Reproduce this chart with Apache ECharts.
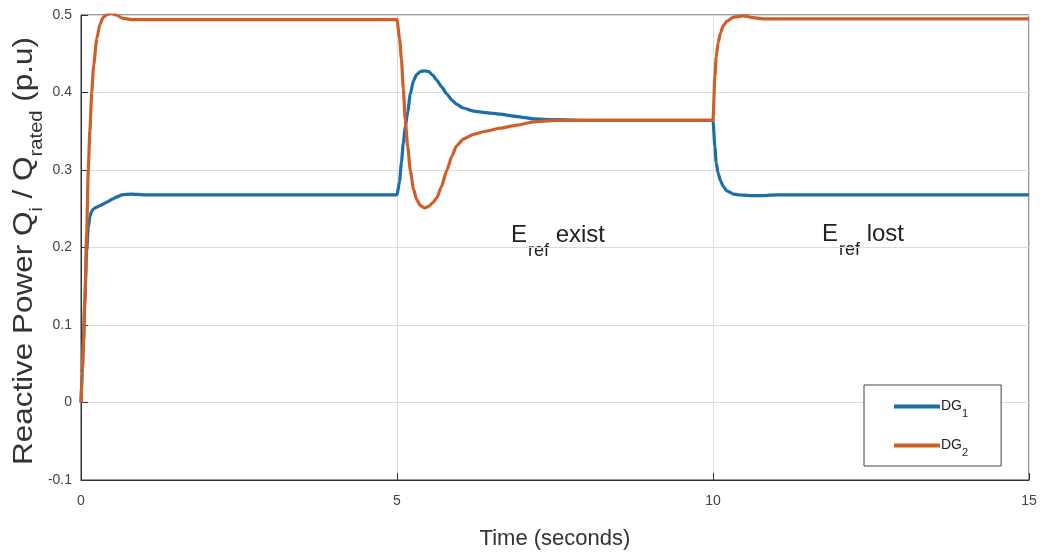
<!DOCTYPE html>
<html>
<head>
<meta charset="utf-8">
<script src="https://cdn.jsdelivr.net/npm/echarts@6/dist/echarts.min.js"></script>
<style>
  html, body { margin: 0; padding: 0; background: #fff; }
  #chart { width: 1040px; height: 553px; }
</style>
</head>
<body>
<div id="chart"></div>
<script>
// Simulation time (seconds)
const time = [
  0, 0.02, 0.04, 0.06, 0.09, 0.115, 0.14, 0.17, 0.2, 0.25, 0.3, 0.35, 0.42, 0.49, 0.56, 0.65, 0.8, 1.0, 1.5,
  5.0, 5.04, 5.07, 5.1, 5.13, 5.17, 5.21, 5.26, 5.31, 5.37, 5.44, 5.5, 5.57, 5.63, 5.7, 5.79, 5.87, 5.94,
  6.05, 6.21, 6.4, 6.63, 6.9, 7.16, 7.5, 8.05, 9.0,
  10.0, 10.03, 10.05, 10.08, 10.12, 10.16, 10.22, 10.32, 10.4, 10.48, 10.6, 10.8, 11.0, 15.0
];

// Reactive power of DG1 (p.u)
const dg1 = [
  0, 0.04, 0.08, 0.13, 0.195, 0.225, 0.24, 0.247, 0.25, 0.252, 0.254, 0.256, 0.259, 0.262, 0.265, 0.268, 0.269, 0.268, 0.268,
  0.268, 0.285, 0.31, 0.335, 0.355, 0.375, 0.398, 0.415, 0.423, 0.427, 0.428, 0.427, 0.422, 0.416, 0.408, 0.398, 0.39, 0.385,
  0.38, 0.376, 0.374, 0.372, 0.369, 0.366, 0.365, 0.364, 0.364,
  0.364, 0.33, 0.31, 0.296, 0.286, 0.279, 0.273, 0.269, 0.268, 0.2675, 0.267, 0.267, 0.268, 0.268
];

// Reactive power of DG2 (p.u)
const dg2 = [
  0, 0.04, 0.08, 0.13, 0.22, 0.3, 0.35, 0.4, 0.435, 0.47, 0.488, 0.497, 0.501, 0.502, 0.5, 0.496, 0.494, 0.494, 0.494,
  0.494, 0.47, 0.443, 0.405, 0.365, 0.33, 0.3, 0.276, 0.262, 0.254, 0.251, 0.253, 0.258, 0.264, 0.278, 0.3, 0.318, 0.331,
  0.34, 0.346, 0.35, 0.354, 0.358, 0.362, 0.364, 0.364, 0.364,
  0.364, 0.421, 0.445, 0.464, 0.477, 0.486, 0.492, 0.497, 0.498, 0.499, 0.497, 0.495, 0.495, 0.495
];

const seriesNames = ['DG1', 'DG2'];
const xTicks = ['0', '5', '10', '15'];
const yTicks = ['-0.1', '0', '0.1', '0.2', '0.3', '0.4', '0.5'];

// Text pieces with subscripts: [text, isSubscript]
const yTitle = [['Reactive Power Q', false], ['i', true], [' / Q', false], ['rated', true], [' (p.u)', false]];
const noteExist = [['E', false], ['ref', true], [' exist', false]];
const noteLost = [['E', false], ['ref', true], [' lost', false]];

const pairs = (vals) => time.map((t, i) => [t, vals[i]]);

const FONT = 'Liberation Sans, Arial, sans-serif';
const BLUE = '#1c6ea6';
const ORANGE = '#cf5e27';

// Measure text so subscripts can sit right after the preceding run
const measureCtx = document.createElement('canvas').getContext('2d');
function textWidth(str, size) {
  measureCtx.font = size + 'px "Liberation Sans", Arial, sans-serif';
  return measureCtx.measureText(str).width;
}

// Build a row of text runs where subscript runs are smaller and dropped by subDy
function subscriptRuns(pieces, mainSize, subSize, subDy, subGap, color) {
  const children = [];
  let x = 0;
  pieces.forEach(([str, isSub]) => {
    const size = isSub ? subSize : mainSize;
    if (isSub) x += subGap;
    children.push({
      type: 'text', x: x, y: isSub ? subDy : 0, silent: true,
      style: { text: str, fontSize: size, fontFamily: FONT, fill: color, align: 'left', verticalAlign: 'middle' }
    });
    x += textWidth(str, size);
  });
  return { children, width: x };
}

const yTitleRuns = subscriptRuns(yTitle, 28, 18, 13.5, 0, '#333');
const yTitleScale = 428 / yTitleRuns.width;
const existRuns = subscriptRuns(noteExist, 24, 18, 16, 1, '#222');
const lostRuns = subscriptRuns(noteLost, 24, 18, 16, 1, '#222');

const chart = echarts.init(document.getElementById('chart'), null, { renderer: 'canvas' });

chart.setOption({
  animation: false,
  backgroundColor: '#ffffff',
  textStyle: { fontFamily: FONT },
  grid: {
    left: 81, right: 11, top: 15, bottom: 73,
    outerBoundsMode: 'none',
    containLabel: false,
    show: true, borderColor: '#333333', borderWidth: 1, backgroundColor: 'transparent'
  },
  legend: {
    data: seriesNames,
    orient: 'vertical',
    left: 864, top: 385,
    padding: [9, 33, 8, 30],
    itemGap: 14,
    itemWidth: 46, itemHeight: 4,
    icon: 'rect',
    backgroundColor: '#ffffff',
    borderColor: '#444',
    borderWidth: 1,
    borderRadius: 0,
    textStyle: {
      fontFamily: FONT,
      color: '#222',
      padding: [0, 0, 0, -4],
      rich: {
        a: { fontSize: 14, lineHeight: 18, color: '#222', fontFamily: FONT },
        s: { fontSize: 11, lineHeight: 18, padding: [14, 0, 0, 0], color: '#222', fontFamily: FONT }
      }
    },
    formatter: (name) => '{a|DG}{s|' + name.slice(2) + '}'
  },
  xAxis: {
    type: 'value',
    min: 0, max: 15, interval: 5,
    name: 'Time (seconds)',
    nameLocation: 'middle',
    nameGap: 48,
    nameTextStyle: { fontSize: 22, color: '#333', fontFamily: FONT },
    axisLine: { show: true, onZero: false, lineStyle: { color: '#333333', width: 1 } },
    axisTick: { show: true, inside: true, length: 7, lineStyle: { color: '#333333' } },
    axisLabel: {
      fontSize: 14, color: '#444', margin: 14,
      formatter: (v) => xTicks[Math.round(v / 5)]
    },
    splitLine: { show: true, lineStyle: { color: '#dddddd', width: 1 } }
  },
  yAxis: {
    type: 'value',
    min: -0.1, max: 0.5, interval: 0.1,
    axisLine: { show: true, onZero: false, lineStyle: { color: '#333333', width: 1 } },
    axisTick: { show: true, inside: true, length: 7, lineStyle: { color: '#333333' } },
    axisLabel: {
      fontSize: 14, color: '#444', margin: 9,
      formatter: (v) => yTicks[Math.round((v + 0.1) * 10)]
    },
    splitLine: { show: true, lineStyle: { color: '#dddddd', width: 1 } }
  },
  graphic: [
    {
      // vertical axis title, reading bottom to top
      type: 'group', x: 24, y: 465, rotation: Math.PI / 2,
      scaleX: yTitleScale, scaleY: 1,
      children: yTitleRuns.children
    },
    { type: 'group', x: 511, y: 235, children: existRuns.children },
    { type: 'group', x: 822, y: 234, children: lostRuns.children }
  ],
  series: [
    {
      name: seriesNames[0], type: 'line', data: pairs(dg1),
      showSymbol: false, smooth: 0.2, smoothMonotone: 'x',
      lineStyle: { color: BLUE, width: 3.2 }, itemStyle: { color: BLUE }, z: 3
    },
    {
      name: seriesNames[1], type: 'line', data: pairs(dg2),
      showSymbol: false, smooth: 0.2, smoothMonotone: 'x',
      lineStyle: { color: ORANGE, width: 3.2 }, itemStyle: { color: ORANGE }, z: 4
    }
  ]
});
</script>
</body>
</html>
